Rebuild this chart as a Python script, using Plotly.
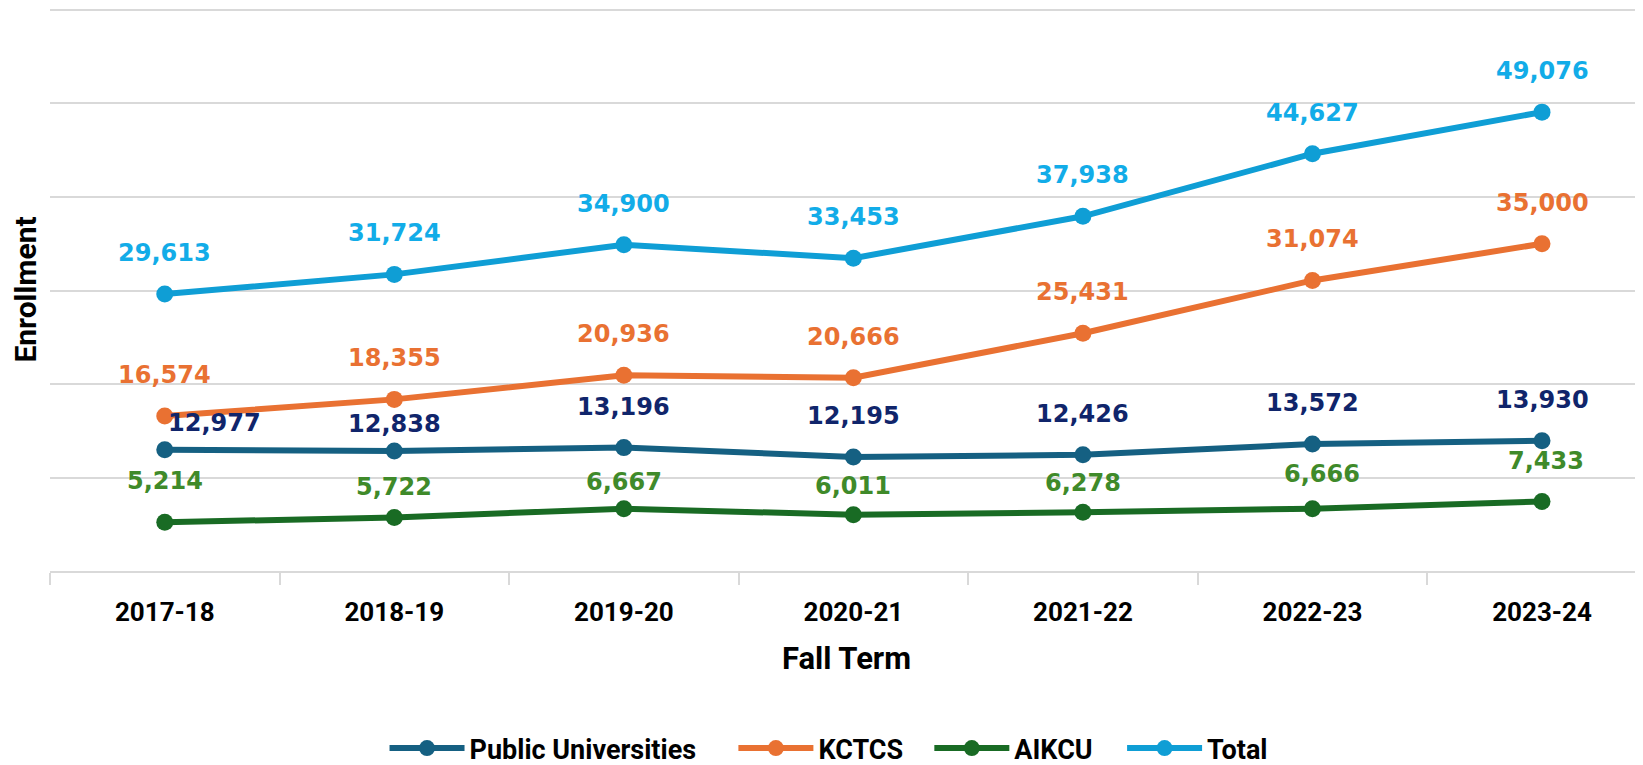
import plotly.graph_objects as go

terms = ["2017-18", "2018-19", "2019-20", "2020-21", "2021-22", "2022-23", "2023-24"]
public_univ = [12977, 12838, 13196, 12195, 12426, 13572, 13930]
kctcs = [16574, 18355, 20936, 20666, 25431, 31074, 35000]
aikcu = [5214, 5722, 6667, 6011, 6278, 6666, 7433]
total = [29613, 31724, 34900, 33453, 37938, 44627, 49076]

TXT = "Roboto, DejaVu Sans Condensed, sans-serif"
WIDE = "DejaVu Sans, Verdana, sans-serif"

# name, values, line colour, label colour
series = [
    ("Public Universities", public_univ, "#156082", "#10256B"),
    ("KCTCS", kctcs, "#E97132", "#E97132"),
    ("AIKCU", aikcu, "#196B24", "#3F8A2A"),
    ("Total", total, "#0F9ED5", "#12ACE8"),
]

# hand-moved labels: (xshift, yshift)
nudges = {
    ("Public Universities", 0): (50, 27),
    ("Public Universities", 1): (0, 27),
    ("AIKCU", 1): (0, 31),
    ("AIKCU", 2): (0, 27),
    ("AIKCU", 3): (0, 29),
    ("AIKCU", 4): (0, 29),
    ("AIKCU", 5): (10, 35),
    ("AIKCU", 6): (4, 41),
}

fig = go.Figure()
annotations = []
for k, (name, vals, color, lab_color) in enumerate(series):
    fig.add_trace(go.Scatter(
        x=terms, y=vals, name=name, mode="lines+markers",
        line=dict(color=color, width=6),
        marker=dict(color=color, size=17),
        legend="legend" if k == 0 else f"legend{k + 1}",
    ))
    for i, (t, v) in enumerate(zip(terms, vals)):
        xs, ys = nudges.get((name, i), (0, 41))
        annotations.append(dict(
            x=t, y=v, text=f"{v:,}", showarrow=False,
            xshift=xs, yshift=ys, yanchor="middle",
            font=dict(family=WIDE, size=24, color=lab_color, weight="bold"),
        ))

leg_common = dict(orientation="h", xanchor="left", y=-0.315, yanchor="middle",
                  font=dict(family=TXT, size=27, color="#000000", weight="bold"),
                  itemwidth=75, bgcolor="rgba(0,0,0,0)")
leg_x = [0.210, 0.429, 0.552, 0.673]

fig.update_layout(
    width=1643, height=765,
    margin=dict(l=42, r=8, t=0, b=201),
    plot_bgcolor="white", paper_bgcolor="white",
    annotations=annotations,
    showlegend=True,
    legend=dict(x=leg_x[0], **leg_common),
    legend2=dict(x=leg_x[1], **leg_common),
    legend3=dict(x=leg_x[2], **leg_common),
    legend4=dict(x=leg_x[3], **leg_common),
)
fig.update_xaxes(
    type="category", range=[-0.5, 6.44],
    showgrid=False, showline=True, linecolor="#D9D9D9", linewidth=2,
    ticks="outside", tickson="boundaries", ticklen=12, tickcolor="#D9D9D9", tickwidth=2,
    ticklabelstandoff=17,
    tickfont=dict(family=TXT, size=26, color="#000000", weight="bold"),
    title=dict(text="Fall Term", standoff=21,
               font=dict(family=TXT, size=31, color="#000000", weight="bold")),
)
fig.update_yaxes(
    range=[0, 60213], dtick=10000, showticklabels=False, automargin=False,
    showgrid=True, gridcolor="#D9D9D9", gridwidth=2, zeroline=False,
    title=dict(text="Enrollment", standoff=5,
               font=dict(family=TXT, size=30, color="#000000", weight="bold")),
)

fig.write_html("out.html")
